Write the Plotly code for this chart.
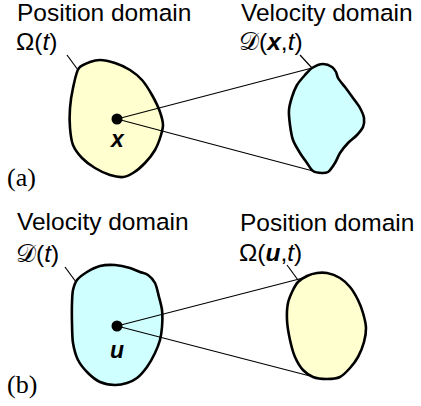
import plotly.graph_objects as go

W, H = 421, 406

# Domain outlines (pixel space of the diagram)
blob_a_pos_x = [79, 90, 100, 115, 130, 142, 152, 160, 163, 161, 155, 145, 133, 123, 110, 95, 82, 73, 70, 70, 73, 79]
blob_a_pos_y = [68, 62, 60, 63, 70, 80, 95, 112, 125, 135, 150, 163, 173, 177, 175, 168, 158, 145, 128, 108, 88, 68]

blob_a_vel_x = [312, 323, 332, 336, 338, 345, 353, 360, 364, 363, 357, 348, 340, 335, 328, 322, 313, 307, 300, 293, 290, 289, 292, 297, 305, 312]
blob_a_vel_y = [68, 64, 67, 72, 78, 87, 98, 108, 118, 127, 135, 143, 153, 163, 172, 173, 171, 163, 153, 140, 125, 110, 97, 85, 75, 68]

blob_b_vel_x = [77, 87, 100, 115, 130, 140, 148, 155, 159, 162, 162, 160, 155, 147, 137, 127, 115, 100, 88, 78, 73, 72, 72, 73, 77]
blob_b_vel_y = [280, 272, 266, 265, 268, 272, 275, 283, 297, 310, 327, 340, 353, 367, 378, 383, 385, 382, 373, 360, 343, 323, 303, 290, 280]

blob_b_pos_x = [298, 307, 317, 327, 340, 350, 358, 363, 366, 364, 358, 350, 340, 327, 313, 303, 295, 290, 287, 288, 293, 298]
blob_b_pos_y = [282, 276, 273, 273, 278, 287, 300, 313, 328, 342, 357, 368, 377, 379, 377, 370, 357, 340, 320, 303, 290, 282]

# points and tangent lines
pts_x = [117, 117]
pts_y = [119, 326]
tan_a_x = [312, 117, 313]
tan_a_y = [68, 119, 171]
tan_b_x = [307, 117, 310]
tan_b_y = [277, 326, 376]

# leader lines
lead_x = [[67, 78], [300, 312], [65, 76], [287, 298]]
lead_y = [[55, 70], [55, 68], [267, 282], [265, 280]]

YELLOW = "rgb(255,255,208)"
CYAN = "rgb(208,255,255)"

fig = go.Figure()

def blob(x, y, color):
    fig.add_trace(go.Scatter(x=x, y=y, mode="lines", fill="toself", fillcolor=color,
                             line=dict(color="black", width=2.6, shape="spline", smoothing=0.8),
                             hoverinfo="skip", showlegend=False))

def line(x, y, w=1.2):
    fig.add_trace(go.Scatter(x=x, y=y, mode="lines", line=dict(color="black", width=w),
                             hoverinfo="skip", showlegend=False))

blob(blob_a_pos_x, blob_a_pos_y, YELLOW)
blob(blob_a_vel_x, blob_a_vel_y, CYAN)
blob(blob_b_vel_x, blob_b_vel_y, CYAN)
blob(blob_b_pos_x, blob_b_pos_y, YELLOW)
line(tan_a_x, tan_a_y)
line(tan_b_x, tan_b_y)
for lx, ly in zip(lead_x, lead_y):
    line(lx, ly, 1.2)

fig.add_trace(go.Scatter(x=pts_x, y=pts_y, mode="markers", marker=dict(color="black", size=11),
                         hoverinfo="skip", showlegend=False))

SANS = "Liberation Sans"
SERIF = "Liberation Serif"

def label(x, y, text, size=24.5, font=SANS, anchor="left"):
    fig.add_annotation(x=x, y=y, text=text, showarrow=False, xanchor=anchor, yanchor="middle",
                       font=dict(family=font, size=size, color="black"), borderpad=0)

label(16, 12, "Position domain")
label(15, 41, "Ω(<i>t</i>)")
label(240, 12, "Velocity domain")
label(238, 41, "𝒟(<b><i>x</i></b>,<i>t</i>)")
label(117, 139, "<b><i>x</i></b>", size=23, anchor="center")
label(6, 177, "(a)", size=26, font=SERIF)

label(16, 221, "Velocity domain")
label(15, 253, "𝒟(<i>t</i>)")
label(239, 222, "Position domain")
label(238, 252, "Ω(<b><i>u</i></b>,<i>t</i>)")
label(117, 350, "<b><i>u</i></b>", size=23, anchor="center")
label(6, 384, "(b)", size=26, font=SERIF)

fig.update_layout(width=W, height=H, margin=dict(l=0, r=0, t=0, b=0),
                  paper_bgcolor="white", plot_bgcolor="white",
                  xaxis=dict(range=[0, W], visible=False, fixedrange=True),
                  yaxis=dict(range=[H, 0], visible=False, fixedrange=True))

fig.write_html("out.html", config={"displayModeBar": False, "staticPlot": True},
               post_script="document.body.style.margin='0';document.body.style.overflow='hidden';")
